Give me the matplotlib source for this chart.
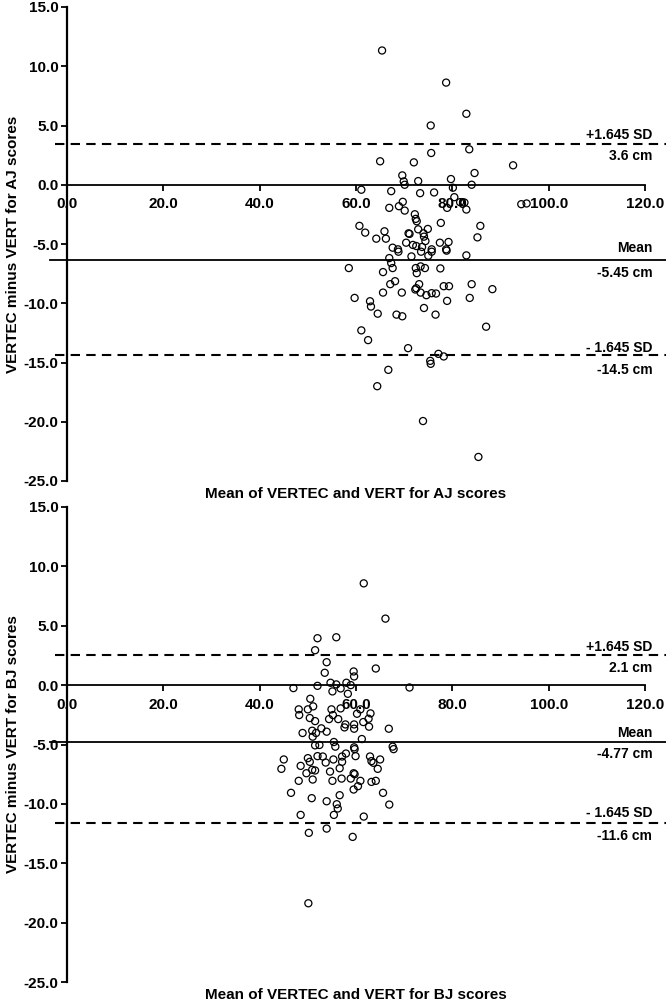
import matplotlib.pyplot as plt

# ---- top panel data (AJ) ----
aj_x = [65.4, 78.7, 82.9, 75.5, 83.5, 75.6, 65.0, 72.0, 92.6, 84.6, 69.6, 69.9, 70.1, 72.9, 79.7,
        84.0, 80.1, 61.1, 67.3, 73.3, 76.2, 80.4, 94.3, 95.4, 69.7, 68.9, 66.9, 70.1, 78.9, 81.6,
        82.5, 82.9, 72.2, 72.4, 72.6, 77.6, 85.8, 60.7, 61.9, 65.9, 70.9, 71.1, 72.9, 74.9, 74.0,
        74.1, 64.2, 66.2, 85.2, 74.4, 70.4, 71.8, 72.5, 73.7, 67.6, 68.7, 77.4, 79.2, 75.7, 78.7,
        68.8, 71.5, 73.5, 75.7, 75.0, 78.8, 82.9, 66.9, 67.3, 58.5, 67.6, 65.6, 72.4, 73.4, 74.3,
        72.6, 77.5, 67.1, 68.1, 73.1, 72.3, 72.5, 78.2, 79.3, 84.0, 88.3, 59.7, 65.6, 69.5, 73.4,
        74.6, 75.7, 76.6, 83.6, 78.9, 62.9, 63.1, 74.1, 64.5, 68.4, 69.6, 76.5, 87.0, 61.1, 62.5,
        70.8, 77.1, 78.2, 75.4, 75.5, 66.7, 64.4, 73.9, 85.4]
aj_y = [11.33, 8.62, 5.99, 5.0, 2.99, 2.68, 1.98, 1.89, 1.64, 0.99, 0.79, 0.28, 0.0, 0.31, 0.48,
        0.0, -0.25, -0.42, -0.54, -0.71, -0.65, -1.05, -1.64, -1.58, -1.44, -1.81, -1.95, -2.18, -1.95, -1.47,
        -1.5, -2.09, -2.49, -2.88, -3.08, -3.22, -3.47, -3.47, -4.04, -3.93, -4.1, -4.15, -3.76, -3.73, -4.1,
        -4.38, -4.55, -4.55, -4.44, -4.75, -4.89, -5.08, -5.17, -5.25, -5.31, -5.45, -4.89, -4.83, -5.45, -5.45,
        -5.65, -6.05, -5.65, -5.65, -5.99, -5.56, -5.96, -6.19, -6.61, -7.03, -7.03, -7.37, -7.03, -6.89, -7.03,
        -7.46, -7.06, -8.39, -8.14, -8.39, -8.84, -8.73, -8.56, -8.56, -8.39, -8.81, -9.55, -9.1, -9.1, -9.1,
        -9.32, -9.15, -9.18, -9.55, -9.8, -9.83, -10.28, -10.4, -10.88, -10.96, -11.1, -10.96, -11.98, -12.29, -13.11,
        -13.79, -14.27, -14.49, -14.86, -15.11, -15.62, -17.0, -19.94, -22.97]
aj_lines = [3.45, -6.38, -14.4]
aj_labels = ["+1.645 SD", "3.6 cm", "Mean", "-5.45 cm", "- 1.645 SD", "-14.5 cm"]
aj_label_y = [4.24, 2.4, -5.34, -7.46, -13.8, -15.6]

# ---- bottom panel data (BJ) ----
bj_x = [61.6, 66.1, 52.0, 55.9, 51.5, 53.9, 64.1, 53.5, 59.5, 59.6, 52.0, 54.7, 55.9, 58.0, 58.9,
        56.8, 55.1, 58.3, 47.0, 71.1, 50.5, 48.1, 48.2, 50.0, 51.1, 50.4, 51.5, 54.9, 55.2, 56.8,
        56.3, 54.4, 57.6, 57.8, 59.6, 59.6, 60.2, 60.9, 61.5, 62.6, 63.0, 62.7, 66.8, 48.9, 50.9,
        51.7, 52.8, 53.9, 51.0, 61.2, 55.4, 51.5, 52.4, 55.7, 59.6, 67.6,
        45.0, 44.5, 48.5, 49.7, 50.0, 50.4, 50.9, 51.5, 51.0, 48.1, 52.0, 53.1, 53.7, 54.6, 55.3,
        55.1, 56.6, 57.0, 57.1, 57.1, 57.9, 59.7, 59.9, 59.7, 59.5, 58.9, 60.9, 60.4, 59.5, 62.9,
        63.2, 63.6, 65.0, 64.5, 63.2, 64.1, 67.8, 46.5, 50.8, 53.9, 56.6, 65.6, 56.0, 56.2, 66.9,
        48.5, 55.4, 61.6, 50.2, 53.9, 59.3, 50.1]
bj_y = [8.57, 5.6, 3.95, 4.03, 2.94, 1.93, 1.4, 1.04, 1.15, 0.73, -0.06, 0.2, 0.06, 0.2, 0.0,
        -0.28, -0.53, -0.73, -0.25, -0.2, -1.15, -2.04, -2.52, -2.04, -1.79, -2.77, -3.03, -2.04, -2.52, -1.96,
        -2.86, -2.86, -3.56, -3.31, -3.31, -3.67, -2.41, -2.04, -3.11, -2.83, -2.38, -3.5, -3.67, -4.03, -3.84,
        -4.03, -3.64, -3.92, -4.34, -4.54, -4.79, -5.07, -5.04, -5.18, -5.24, -5.18,
        -6.26, -7.05, -6.8, -7.42, -6.15, -6.46, -7.13, -7.19, -7.95, -8.06, -5.98, -6.01, -6.52, -7.28, -6.26,
        -8.06, -7.0, -7.87, -6.01, -6.46, -5.76, -5.39, -5.98, -7.5, -7.42, -7.87, -8.06, -8.51, -8.79, -6.01,
        -6.4, -6.54, -6.26, -7.05, -8.15, -8.06, -5.39, -9.07, -9.52, -9.78, -9.27, -9.07, -10.03, -10.39, -10.06,
        -10.93, -10.93, -11.07, -12.44, -12.08, -12.78, -18.37]
bj_lines = [2.52, -4.82, -11.57]
bj_labels = ["+1.645 SD", "2.1 cm", "Mean", "-4.77 cm", "- 1.645 SD", "-11.6 cm"]
bj_label_y = [3.25, 1.4, -4.06, -5.81, -10.79, -12.7]

xticks = [0, 20, 40, 60, 80, 100, 120]
yticks = [-25, -20, -15, -10, -5, 0, 5, 10, 15]

plt.rcParams['font.family'] = ['Liberation Sans', 'DejaVu Sans']
plt.rcParams['font.weight'] = 'bold'

fig = plt.figure(figsize=(6.66, 10), dpi=100)


def panel(rect, xs, ys, lines, labels, label_y, ylab, xlab):
    ax = fig.add_axes(rect)
    ax.set_xlim(0, 120)
    ax.set_ylim(-25, 15)
    ax.spines['top'].set_visible(False)
    ax.spines['right'].set_visible(False)
    ax.spines['bottom'].set_position(('data', 0))
    ax.spines['bottom'].set_linewidth(1.3)
    ax.spines['left'].set_linewidth(1.6)
    ax.set_xticks(xticks)
    ax.set_xticklabels([f"{v:.1f}" for v in xticks])
    ax.set_yticks(yticks)
    ax.set_yticklabels([f"{v:.1f}" for v in yticks])
    ax.tick_params(direction='out', length=4, width=1.3, labelsize=11, pad=2)
    ax.tick_params(axis='x', pad=5)
    for lab in ax.get_xticklabels() + ax.get_yticklabels():
        lab.set_fontweight('bold')

    # limit and mean lines
    ax.plot([-2.5, 124.5], [lines[0], lines[0]], color='black', lw=1.5,
            dashes=(4.5, 3), clip_on=False)
    ax.plot([-3.5, 124.5], [lines[1], lines[1]], color='black', lw=1.3, clip_on=False)
    ax.plot([-2.5, 124.5], [lines[2], lines[2]], color='black', lw=1.5,
            dashes=(4.5, 3), clip_on=False)

    ax.scatter(xs, ys, s=26, facecolors='none', edgecolors='black', linewidths=0.9,
               zorder=3, clip_on=False)

    for t, yy in zip(labels, label_y):
        ax.text(121.5, yy, t, ha='right', va='center', fontsize=10, fontweight='bold')

    ax.set_ylabel(ylab, fontsize=11, fontweight='bold', labelpad=3)
    ax.text(0.5, -0.012, xlab, transform=ax.transAxes, ha='center', va='top',
            fontsize=11, fontweight='bold')
    return ax


panel([0.1006, 0.519, 0.868, 0.474], aj_x, aj_y, aj_lines, aj_labels, aj_label_y,
      "VERTEC minus VERT for AJ scores", "Mean of VERTEC and VERT for AJ scores")
panel([0.1006, 0.018, 0.868, 0.475], bj_x, bj_y, bj_lines, bj_labels, bj_label_y,
      "VERTEC minus VERT for BJ scores", "Mean of VERTEC and VERT for BJ scores")

fig.savefig("out.png", dpi=100)
